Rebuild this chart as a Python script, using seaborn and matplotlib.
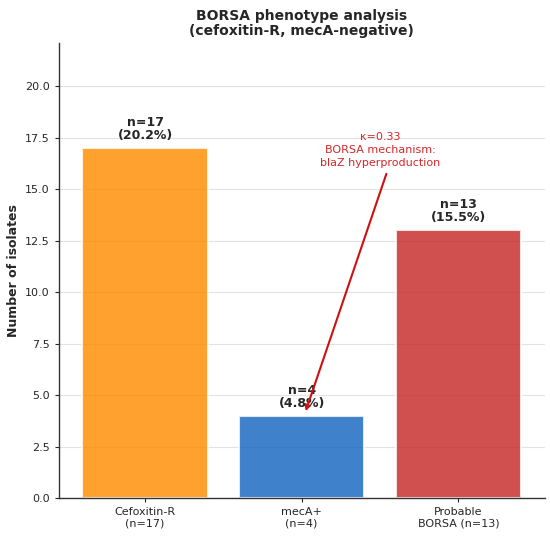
import numpy as np
import pandas as pd
import seaborn as sns
import matplotlib.pyplot as plt

# data
categories = ["Cefoxitin-R\n(n=17)", "mecA+\n(n=4)", "Probable\nBORSA (n=13)"]
counts = [17, 4, 13]
percents = [20.2, 4.8, 15.5]
colors = ["#FF8C00", "#1565C0", "#C62828"]

df = pd.DataFrame({"group": categories, "n": counts})

sns.set_style("white")
fig, ax = plt.subplots(figsize=(5.5, 5.38), dpi=100)
fig.subplots_adjust(left=0.107, right=0.99, bottom=0.074, top=0.92)

sns.barplot(data=df, x="group", y="n", hue="group", palette=colors,
            legend=False, alpha=0.82, saturation=1, edgecolor="white",
            linewidth=1.5, width=0.8, ax=ax)

for i, (n, p) in enumerate(zip(counts, percents)):
    ax.text(i, n + 0.3, f"n={n}\n({p}%)", ha="center", va="bottom",
            fontsize=9, fontweight="bold", linespacing=1.0)

ax.annotate("κ=0.33\nBORSA mechanism:\nblaZ hyperproduction",
            xy=(1.02, 4.1), xytext=(1.5, 16.9), ha="center", va="center",
            fontsize=8, color="#d62728", linespacing=1.35,
            arrowprops=dict(arrowstyle="->", color="#cc1111", lw=1.5,
                            relpos=(0.62, 0.5)))

ax.set_xlim(-0.55, 2.55)
ax.set_ylim(0, 22.1)
ax.set_xlabel("")
ax.set_ylabel("Number of isolates", fontsize=9, fontweight="bold")
ax.set_title("BORSA phenotype analysis\n(cefoxitin-R, mecA-negative)",
             fontsize=10, fontweight="bold", linespacing=1.1)
ax.yaxis.grid(True, color="#e2e2e2", linewidth=0.8)
ax.set_axisbelow(True)
ax.tick_params(axis="both", labelsize=8, length=3, left=True, bottom=True)
for s in ["left", "bottom"]:
    ax.spines[s].set_color("#333333")
    ax.spines[s].set_linewidth(1.0)
sns.despine(ax=ax)

plt.savefig("out.png")
